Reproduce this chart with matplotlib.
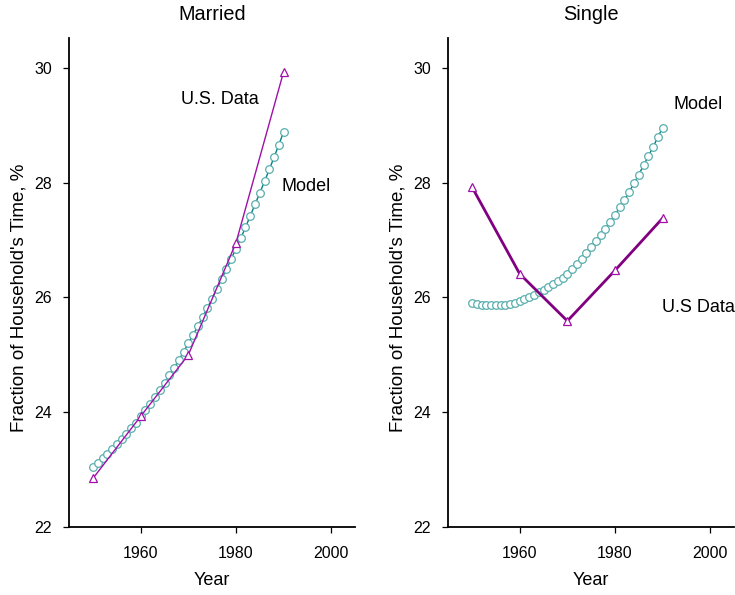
import matplotlib
matplotlib.use("Agg")
import matplotlib.pyplot as plt

plt.rcParams['font.family'] = ['Liberation Sans', 'DejaVu Sans']

# ---- data ----
data_years = [1950, 1960, 1970, 1980, 1990]
married_us = [22.85, 23.93, 25.00, 26.95, 29.93]
single_us = [27.92, 26.41, 25.59, 26.47, 27.38]

model_years = list(range(1950, 1991))
married_model = [23.05, 23.12, 23.20, 23.28, 23.36, 23.45, 23.53, 23.62, 23.72, 23.82,
                 23.93, 24.04, 24.15, 24.27, 24.39, 24.51, 24.64, 24.77, 24.91, 25.05,
                 25.20, 25.35, 25.50, 25.66, 25.82, 25.98, 26.15, 26.32, 26.49, 26.67,
                 26.85, 27.03, 27.22, 27.42, 27.62, 27.82, 28.02, 28.23, 28.44, 28.66,
                 28.88]
single_model = [25.91, 25.89, 25.87, 25.86, 25.86, 25.86, 25.86, 25.87, 25.89, 25.91,
                25.94, 25.97, 26.01, 26.05, 26.09, 26.13, 26.18, 26.23, 26.28, 26.34,
                26.41, 26.49, 26.58, 26.67, 26.77, 26.87, 26.98, 27.09, 27.20, 27.32,
                27.44, 27.57, 27.70, 27.84, 27.99, 28.14, 28.30, 28.46, 28.62, 28.79,
                28.96]

x_ticks = [1960, 1980, 2000]
y_ticks = [22, 24, 26, 28, 30]

W, H = 735, 595
fig = plt.figure(figsize=(W / 100, H / 100), dpi=100)

AX_L = (69.3, 355)
AX_R = (448.3, 734)

def make_ax(left_px, right_px):
    return fig.add_axes([left_px / W, 1 - 527 / H, (right_px - left_px) / W, (527 - 38) / H])

axL = make_ax(*AX_L)
axR = make_ax(*AX_R)

model_edge = '#5aaeae'
model_line = '#008080'
us_color = '#a010a8'

def style(ax, title, bounds, label_right_px):
    ax.set_xlim(1945, 2005)
    ax.set_ylim(22, 30.52)
    ax.set_xticks(x_ticks)
    ax.set_yticks(y_ticks)
    for s in ['top', 'right']:
        ax.spines[s].set_visible(False)
    for s in ['left', 'bottom']:
        ax.spines[s].set_linewidth(1.3)
    ax.tick_params(direction='out', length=4.5, width=0.9, labelsize=11.5)
    ax.tick_params(axis='x', pad=9)
    ax.tick_params(axis='y', pad=8)
    ax.set_xlabel('Year', fontsize=13, labelpad=8)
    ax.set_ylabel("Fraction of Household's Time, %", fontsize=13.5)
    ax.yaxis.set_label_coords((label_right_px - bounds[0]) / (bounds[1] - bounds[0]), 0.468)
    ax.set_title(title, fontsize=14.3, pad=13)

# Married
axL.plot(model_years, married_model, color=model_line, lw=1.0, zorder=2)
axL.plot(model_years, married_model, ls='none', marker='o', ms=5.5, mfc='white',
         mec=model_edge, mew=0.9, zorder=3)
axL.plot(data_years, married_us, color=us_color, lw=1.0, marker='^', ms=5.5,
         mfc='white', mec=us_color, mew=0.9, zorder=4)
axL.text(1968.5, 29.44, 'U.S. Data', fontsize=13, va='center', ha='left')
axL.text(1989.5, 27.93, 'Model', fontsize=13, va='center', ha='left')
style(axL, 'Married', AX_L, 27)

# Single
axR.plot(model_years, single_model, color=model_line, lw=1.0, zorder=2)
axR.plot(model_years, single_model, ls='none', marker='o', ms=5.5, mfc='white',
         mec=model_edge, mew=0.9, zorder=3)
axR.plot(data_years, single_us, color='#800080', lw=2.0, marker='^', ms=5.5,
         mfc='white', mec=us_color, mew=0.9, zorder=4)
axR.text(1992.2, 29.36, 'Model', fontsize=13, va='center', ha='left')
axR.text(1989.8, 25.82, 'U.S Data', fontsize=13, va='center', ha='left')
style(axR, 'Single', AX_R, 406)

fig.savefig('out.png', dpi=100)
